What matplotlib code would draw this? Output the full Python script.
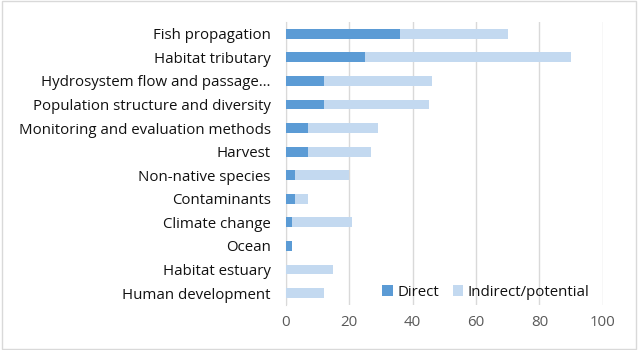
import matplotlib.pyplot as plt
from matplotlib.patches import Rectangle

# data, top to bottom as in the chart
categories = ["Fish propagation", "Habitat tributary", "Hydrosystem flow and passage\u2026",
              "Population structure and diversity", "Monitoring and evaluation methods",
              "Harvest", "Non-native species", "Contaminants", "Climate change",
              "Ocean", "Habitat estuary", "Human development"]
direct = [36, 25, 12, 12, 7, 7, 3, 3, 2, 2, 0, 0]
indirect = [34, 65, 34, 33, 22, 20, 17, 4, 19, 0, 15, 12]
xticks = [0, 20, 40, 60, 80, 100]

plt.rcParams['font.family'] = ['Open Sans', 'DejaVu Sans']

fig = plt.figure(figsize=(6.38, 3.5), dpi=100)
ax = fig.add_axes([0.448, 0.129, 0.497, 0.808])

y = list(range(len(categories)))
ax.barh(y, direct, height=0.42, color='#5b9bd5', label='Direct', zorder=3)
ax.barh(y, indirect, left=direct, height=0.42, color='#c3d9f0', label='Indirect/potential', zorder=3)

ax.set_ylim(len(categories) - 0.5, -0.5)
ax.set_xlim(0, 100)
ax.set_yticks(y)
ax.set_yticklabels(categories, fontsize=10.8, color='#111111')
ax.set_xticks(xticks)
ax.tick_params(axis='x', labelsize=10.8, labelcolor='#595959', length=0, pad=7)
ax.tick_params(axis='y', length=0, pad=11)
ax.grid(axis='x', color='#d9d9d9', linewidth=1, zorder=0)
for s in ['top', 'right', 'bottom']:
    ax.spines[s].set_visible(False)
ax.spines['left'].set_color('#d9d9d9')

ax.legend(loc='lower right', ncol=2, frameon=False, fontsize=10.8, handlelength=0.7,
          handleheight=0.7, handletextpad=0.3, columnspacing=0.9,
          bbox_to_anchor=(1.0, -0.03), labelcolor='#111111')

# outer chart border
fig.patches.append(Rectangle((0.003, 0.004), 0.994, 0.992, transform=fig.transFigure,
                             fill=False, edgecolor='#d9d9d9', linewidth=1))

fig.savefig('out.png', dpi=100)
